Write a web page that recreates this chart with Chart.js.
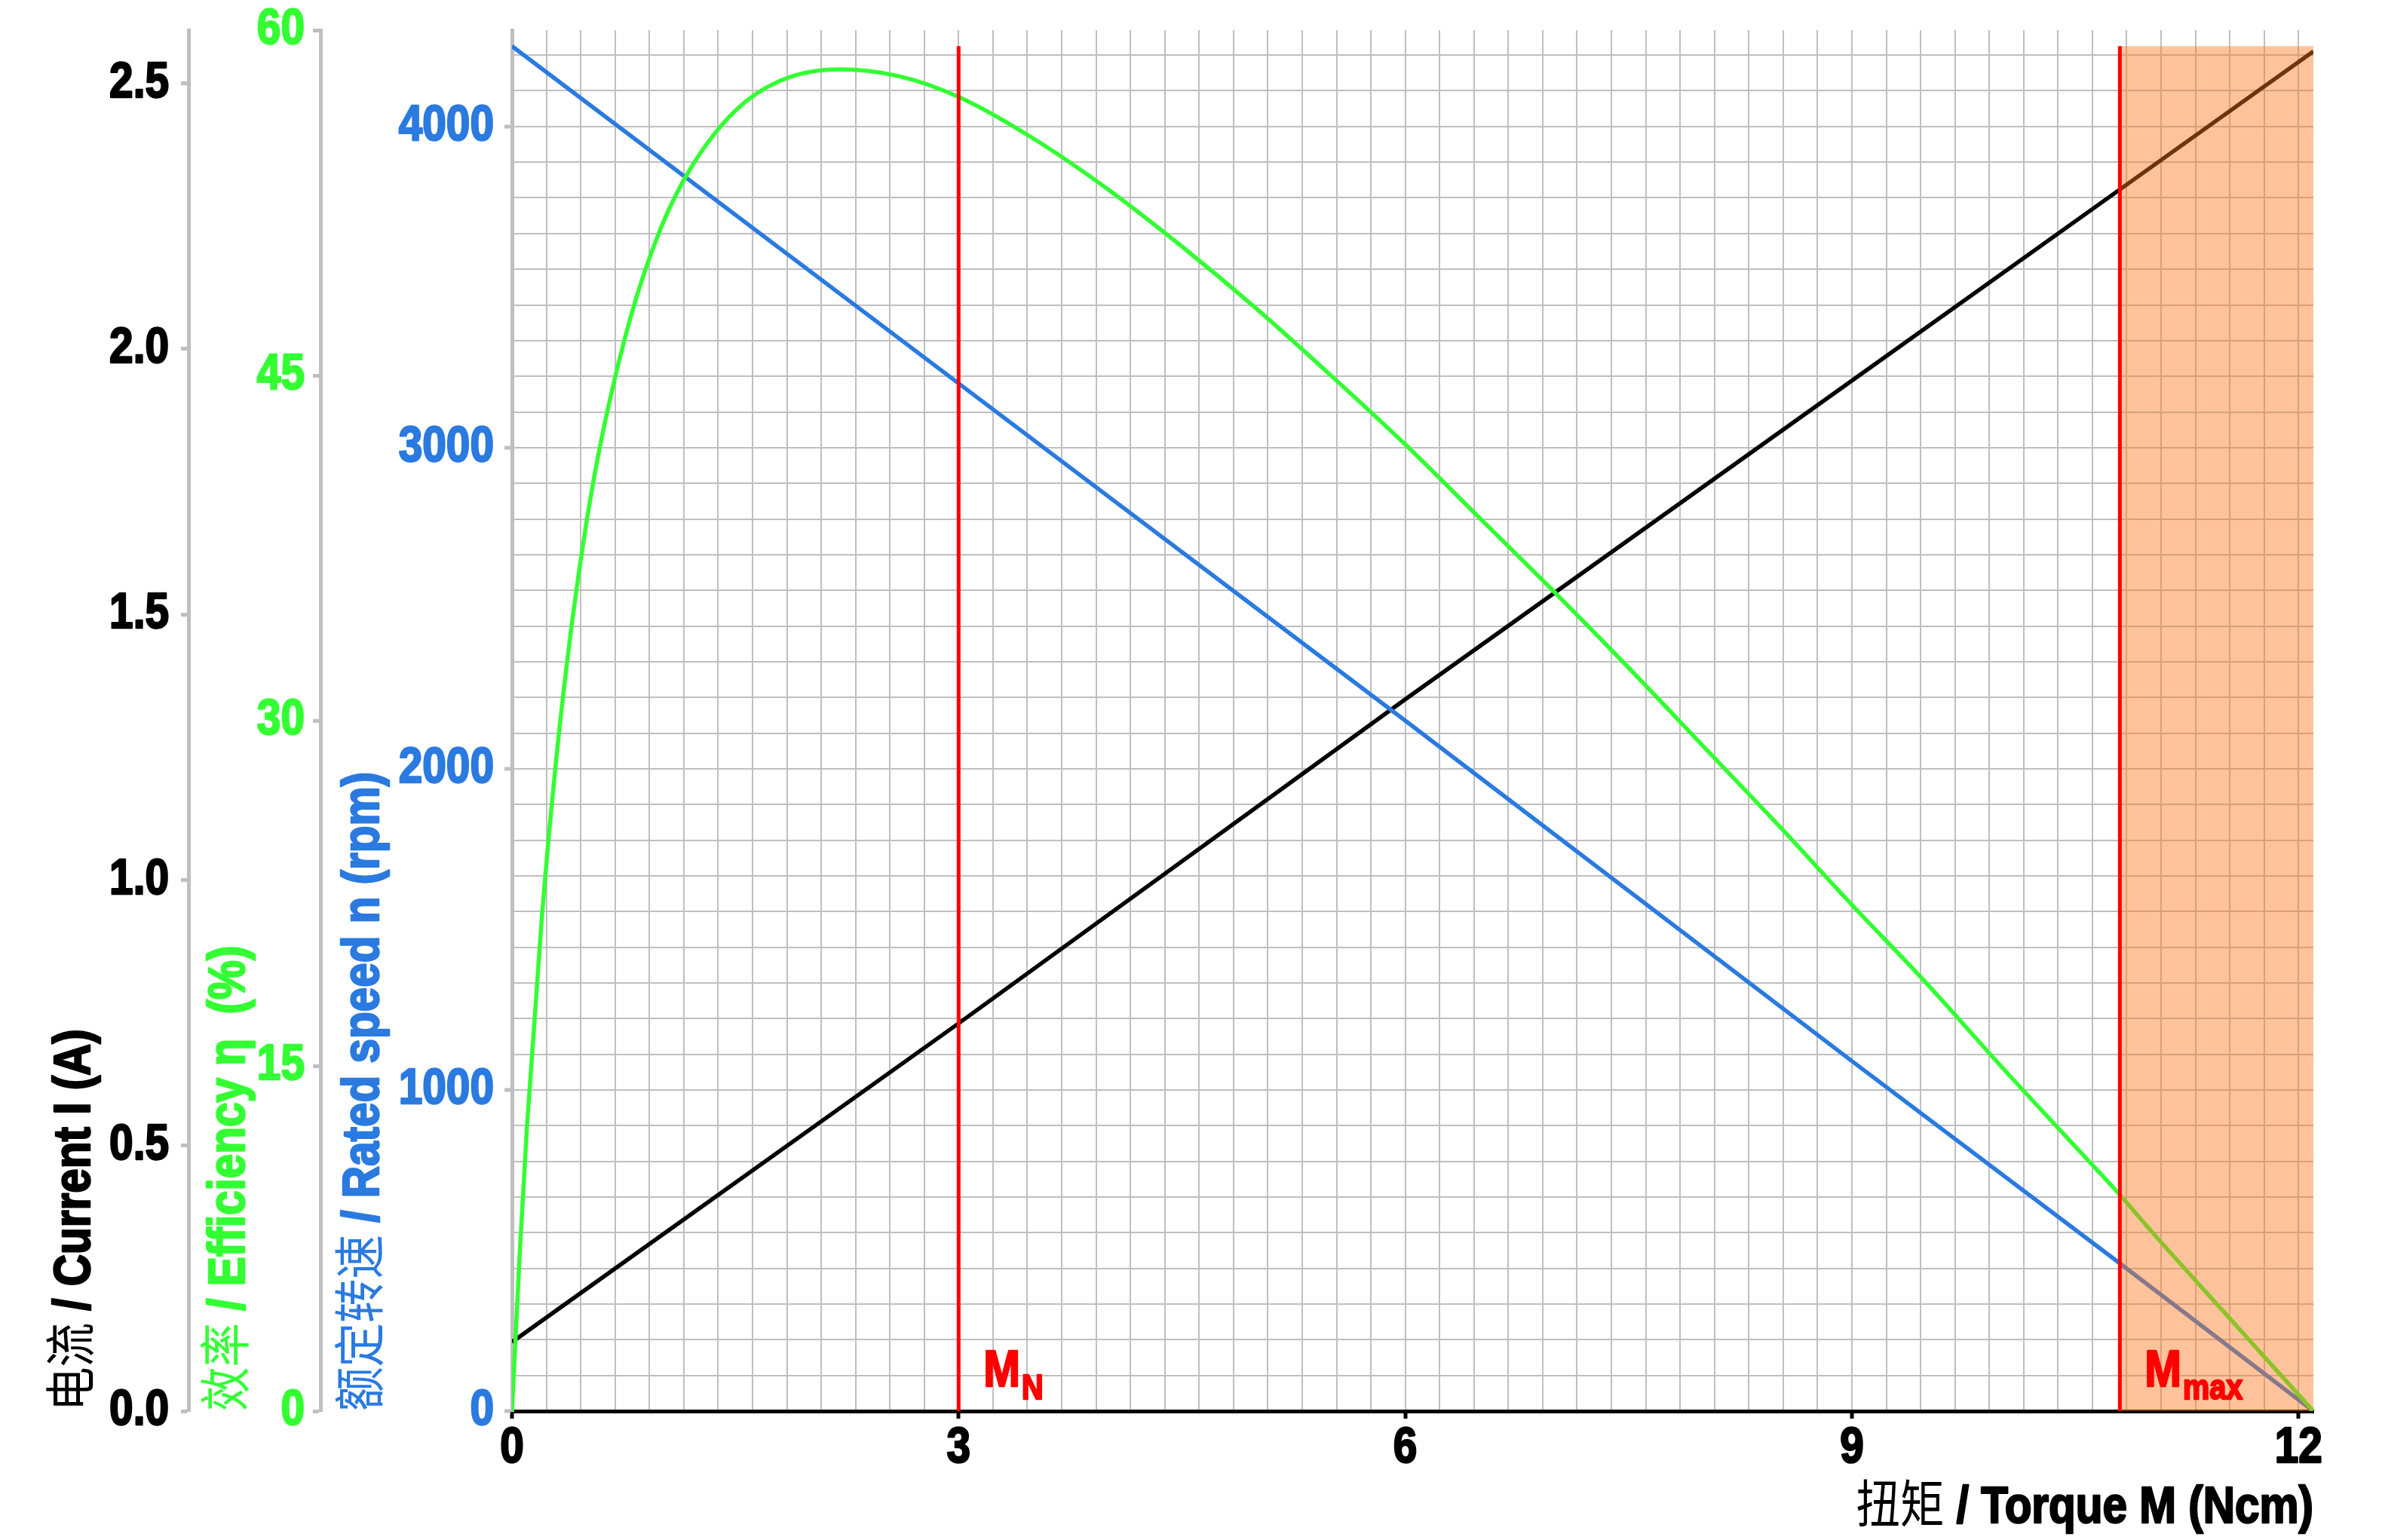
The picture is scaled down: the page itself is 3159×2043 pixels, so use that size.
<!DOCTYPE html>
<html>
<head>
<meta charset="utf-8">
<script src="https://cdn.jsdelivr.net/npm/chart.js@4.4.1/dist/chart.umd.min.js"></script>
<style>
  html, body { margin: 0; padding: 0; background: #fff; }
  #wrap { width: 3159px; height: 2043px; position: relative; }
</style>
</head>
<body>
<div id="wrap"><canvas id="motorChart"></canvas></div>
<script>
// torque points for the straight lines (Ncm)
const lineTorque = [0, 3, 6, 9, 10.8, 12.1];
const speedRpm = [4250, 3200, 2150, 1090, 460, 0];
const currentA = [0.13, 0.73, 1.34, 1.94, 2.30, 2.56];

// efficiency curve (%)
const effTorque = [0, 0.05, 0.1, 0.2, 0.3, 0.4, 0.5, 0.6, 0.8, 1.0, 1.2, 1.5, 1.8, 2.2, 2.6, 3.0,
  3.5, 4.0, 4.5, 5.0, 5.5, 6.0, 6.5, 7.0, 7.5, 8.0, 8.5, 9.0, 9.5, 10.0, 10.5, 10.8, 11.0, 11.5, 12.1];
const effPct = [0, 6.6, 12.3, 21.4, 28.5, 34.1, 38.6, 42.2, 47.6, 51.4, 54.0, 56.5, 57.8, 58.3, 58.0, 57.1,
  55.3, 53.1, 50.6, 47.9, 45.0, 42.0, 38.8, 35.6, 32.3, 28.9, 25.5, 22.0, 18.6, 15.0, 11.5, 9.4, 7.9, 4.3, 0];

// rated torque and max torque markers
const markerTorque = [3, 10.8];
const markerSubs = ['N', 'max'];
const markerTop = 4250;
const overloadRange = [10.8, 12.1];

const xTicksLabelled = [0, 3, 6, 9, 12];

const fontFamily = "'Liberation Sans', 'Noto Sans CJK SC', sans-serif";
Chart.defaults.font.family = fontFamily;

const GREEN = '#33ff33';
const BLUE = '#2a7ae0';
const GRID = '#bfbfbf';
const SQUEEZE = 0.86; // no condensed font installed, so text is narrowed by hand
const CJK = /[\u2e80-\u9fff\uf900-\ufaff\uff00-\uffef]/;

const isMult = (v, s) => Math.abs(v / s - Math.round(v / s)) < 1e-6;
const pts = (xs, ys) => xs.map((x, i) => ({x: x, y: ys[i]}));

// narrow + heavier latin text, plain weight for chinese characters
const canvas = document.getElementById('motorChart');
const c2d = canvas.getContext('2d');
const rawFillText = c2d.fillText.bind(c2d);
const rawStrokeText = c2d.strokeText.bind(c2d);
c2d.fillText = function (text, x, y) {
  text = String(text);
  this.save();
  this.translate(x, y);
  this.scale(SQUEEZE, 1);
  const boldFont = this.font;
  const isBold = /bold|[6-9]00/.test(boldFont);
  const thinFont = boldFont.replace(/bold|[6-9]00/, 'normal');
  const runs = [];
  for (const ch of text) {
    const cjk = CJK.test(ch);
    const last = runs[runs.length - 1];
    if (last && last.cjk === cjk) last.s += ch;
    else runs.push({s: ch, cjk: cjk});
  }
  let total = 0;
  runs.forEach(r => {
    this.font = r.cjk ? thinFont : boldFont;
    r.w = this.measureText(r.s).width;
    total += r.w;
  });
  const align = this.textAlign;
  let pos = (align === 'right' || align === 'end') ? -total : (align === 'center' ? -total / 2 : 0);
  this.textAlign = 'left';
  this.strokeStyle = this.fillStyle;
  this.lineWidth = 2.5;
  this.lineJoin = 'round';
  runs.forEach(r => {
    this.font = r.cjk ? thinFont : boldFont;
    rawFillText(r.s, pos, 0);
    if (!r.cjk && isBold) rawStrokeText(r.s, pos, 0);
    pos += r.w;
  });
  this.restore();
};

const markerLabels = {
  id: 'markerLabels',
  afterDatasetsDraw(chart) {
    const {ctx, chartArea, scales} = chart;
    ctx.save();
    ctx.fillStyle = '#ff0000';
    ctx.textBaseline = 'alphabetic';
    ctx.textAlign = 'left';
    markerTorque.forEach((t, i) => {
      const x = scales.x.getPixelForValue(t) + 33;
      const y = chartArea.bottom - 33;
      ctx.font = 'bold 68px ' + fontFamily;
      ctx.fillText('M', x, y);
      const w = ctx.measureText('M').width * SQUEEZE;
      ctx.font = 'bold 46px ' + fontFamily;
      ctx.fillText(markerSubs[i], x + w + 2, y + 17);
    });
    ctx.restore();
  }
};

const markerSets = markerTorque.map(t => ({
  data: [{x: t, y: 0}, {x: t, y: markerTop}],
  yAxisID: 'y',
  borderColor: '#ff0000',
  borderWidth: 5,
  pointRadius: 0,
  order: -1
}));

const noPad = s => { s.paddingTop = 0; s.paddingBottom = 0; s.paddingLeft = 0; s.paddingRight = 0; };
const tickFont = { size: 66, weight: 'bold' };
const titleFont = { size: 68, weight: 'bold' };

new Chart(canvas, {
  type: 'line',
  data: {
    datasets: [
      {
        data: pts(lineTorque, currentA),
        yAxisID: 'yCur',
        borderColor: '#000000',
        borderWidth: 5.5,
        pointRadius: 0,
        order: 3
      },
      {
        data: pts(lineTorque, speedRpm),
        yAxisID: 'y',
        borderColor: BLUE,
        borderWidth: 5.5,
        pointRadius: 0,
        order: 2
      },
      {
        data: pts(effTorque, effPct),
        yAxisID: 'yEff',
        borderColor: GREEN,
        borderWidth: 5.5,
        pointRadius: 0,
        cubicInterpolationMode: 'monotone',
        order: 1
      },
      {
        data: [{x: overloadRange[0], y: markerTop}, {x: overloadRange[1], y: markerTop}],
        yAxisID: 'y',
        borderWidth: 0,
        borderColor: 'rgba(0,0,0,0)',
        backgroundColor: 'rgba(255,118,27,0.44)',
        fill: 'origin',
        pointRadius: 0,
        order: 0
      },
      ...markerSets
    ]
  },
  options: {
    responsive: true,
    maintainAspectRatio: false,
    animation: false,
    layout: { padding: { left: 40, right: 91, top: 40, bottom: 0 } },
    plugins: { legend: { display: false }, tooltip: { enabled: false } },
    scales: {
      x: {
        type: 'linear',
        min: 0,
        max: 12.1,
        ticks: {
          stepSize: 3 / 13,
          autoSkip: false,
          includeBounds: false,
          maxRotation: 0,
          padding: 0,
          color: '#000',
          font: tickFont,
          callback: v => xTicksLabelled.some(t => Math.abs(t - v) < 1e-6) ? String(Math.round(v)) : ''
        },
        grid: {
          color: GRID,
          lineWidth: 2,
          tickLength: 10,
          tickWidth: 5,
          tickColor: c => (c.tick && isMult(c.tick.value, 3)) ? '#000' : 'rgba(0,0,0,0)'
        },
        border: { color: '#000', width: 5 },
        title: {
          display: true,
          text: '扭矩 / Torque M (Ncm)',
          align: 'end',
          color: '#000',
          font: titleFont,
          padding: { top: 0, bottom: 1 }
        },
        afterFit: s => { noPad(s); s.height = 171; }
      },
      y: {
        type: 'linear',
        position: 'left',
        weight: 0,
        min: 0,
        max: 4300,
        ticks: {
          stepSize: 1000 / 9,
          autoSkip: false,
          includeBounds: false,
          padding: 14,
          color: BLUE,
          font: tickFont,
          callback: v => isMult(v, 1000) ? String(Math.round(v)) : ''
        },
        grid: {
          color: GRID,
          lineWidth: 2,
          tickLength: 10,
          tickWidth: 5,
          tickColor: c => (c.tick && isMult(c.tick.value, 1000)) ? GRID : 'rgba(0,0,0,0)'
        },
        border: { color: GRID, width: 5 },
        title: {
          display: true,
          text: '额定转速 / Rated speed n (rpm)',
          align: 'start',
          color: BLUE,
          font: titleFont,
          padding: { top: 17, bottom: 0 }
        },
        afterFit: s => { noPad(s); s.width = 254; }
      },
      yEff: {
        type: 'linear',
        position: 'left',
        weight: 1,
        min: 0,
        max: 60,
        ticks: {
          stepSize: 15,
          padding: 11,
          color: GREEN,
          font: tickFont
        },
        grid: {
          drawOnChartArea: false,
          tickLength: 10,
          tickWidth: 5,
          tickColor: GRID
        },
        border: { color: GRID, width: 5 },
        title: {
          display: true,
          text: '效率 / Efficiency η  (%)',
          align: 'start',
          color: GREEN,
          font: titleFont,
          padding: { top: 14, bottom: 0 }
        },
        afterFit: s => { noPad(s); s.width = 175; }
      },
      yCur: {
        type: 'linear',
        position: 'left',
        weight: 2,
        min: 0,
        max: 2.6,
        ticks: {
          stepSize: 0.5,
          includeBounds: false,
          padding: 16,
          color: '#000',
          font: tickFont,
          callback: v => v.toFixed(1)
        },
        grid: {
          drawOnChartArea: false,
          tickLength: 10,
          tickWidth: 5,
          tickColor: GRID
        },
        border: { color: GRID, width: 5 },
        title: {
          display: true,
          text: '电流 / Current I (A)',
          align: 'start',
          color: '#000',
          font: titleFont,
          padding: { top: 19, bottom: 0 }
        },
        afterFit: s => { noPad(s); s.width = 210; }
      }
    }
  },
  plugins: [markerLabels]
});
</script>
</body>
</html>
